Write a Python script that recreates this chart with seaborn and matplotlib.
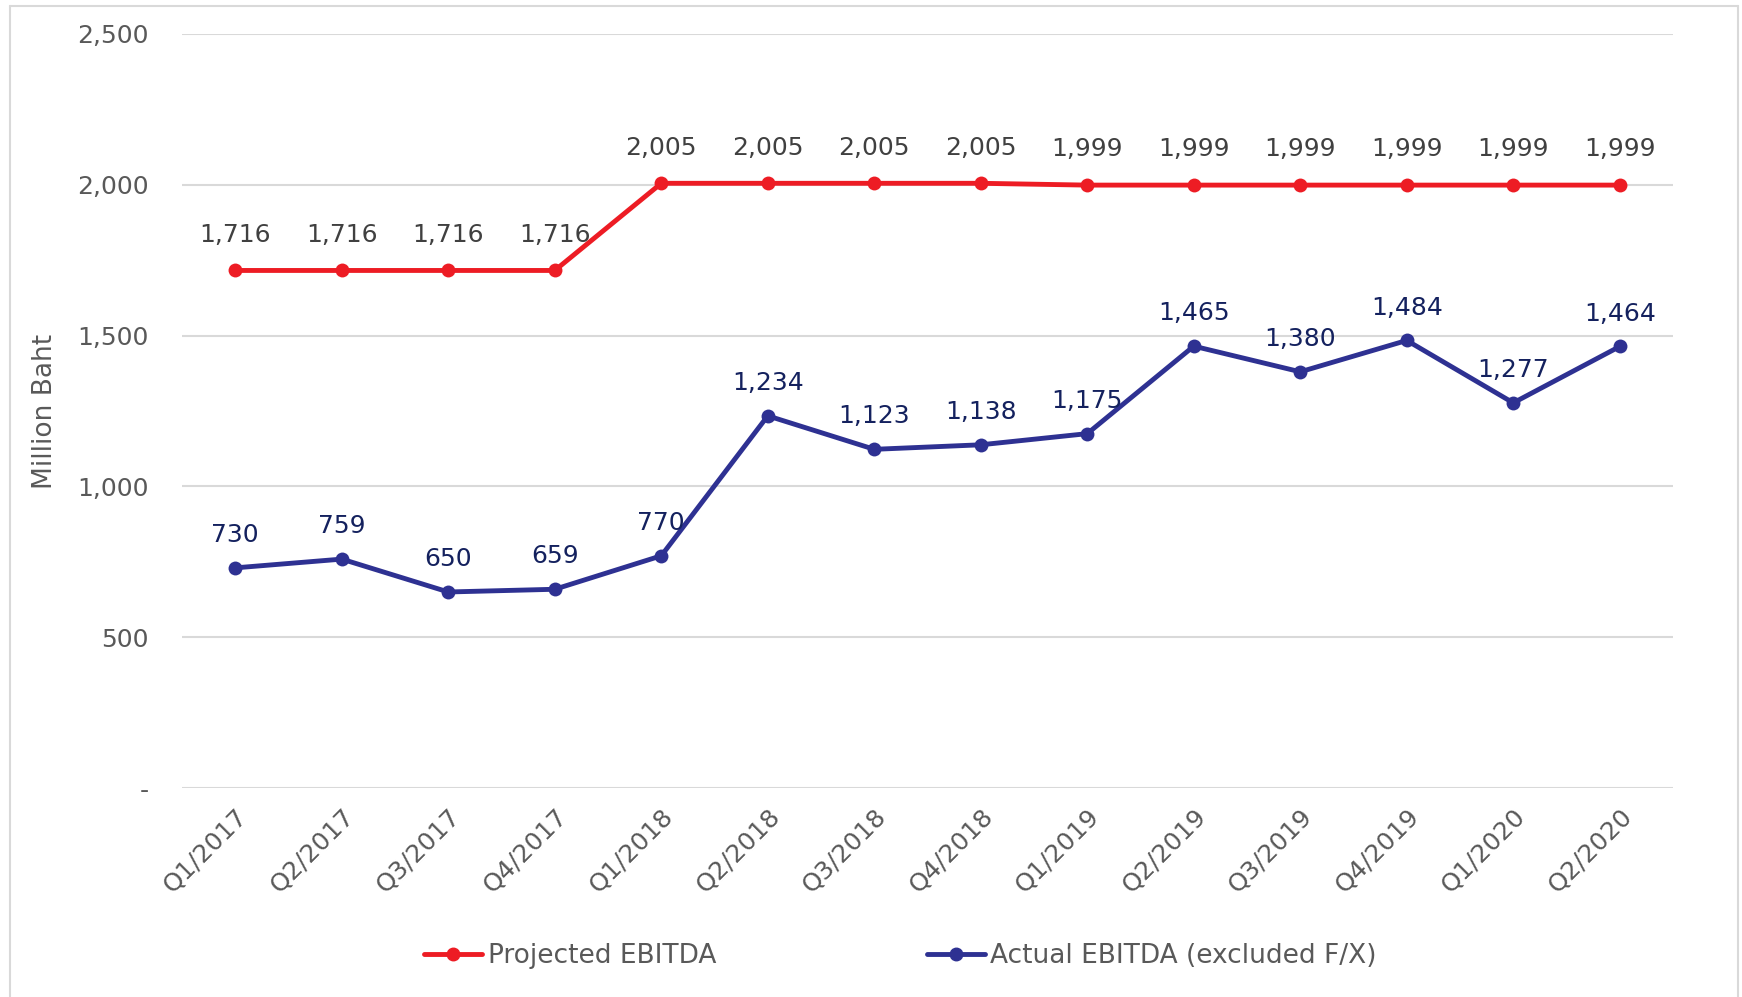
import matplotlib
matplotlib.use("Agg")
import matplotlib.pyplot as plt
import pandas as pd
import seaborn as sns
from matplotlib.lines import Line2D

# ----- data -----
quarters = ["Q1/2017", "Q2/2017", "Q3/2017", "Q4/2017",
            "Q1/2018", "Q2/2018", "Q3/2018", "Q4/2018",
            "Q1/2019", "Q2/2019", "Q3/2019", "Q4/2019",
            "Q1/2020", "Q2/2020"]
projected = [1716, 1716, 1716, 1716, 2005, 2005, 2005, 2005,
             1999, 1999, 1999, 1999, 1999, 1999]
actual = [730, 759, 650, 659, 770, 1234, 1123, 1138,
          1175, 1465, 1380, 1484, 1277, 1464]
y_ticks = [0, 500, 1000, 1500, 2000, 2500]

red = "#ED1C24"
blue = "#2E3192"

sns.set_style("white")
plt.rcParams["font.family"] = ["DejaVu Sans"]

df_proj = pd.DataFrame({"quarter": quarters, "value": projected})
df_act = pd.DataFrame({"quarter": quarters, "value": actual})

fig = plt.figure(figsize=(17.42, 9.97), dpi=100)
ax = fig.add_axes([0.1045, 0.2096, 0.8559, 0.7563])

sns.lineplot(data=df_proj, x="quarter", y="value", sort=False, color=red,
             linewidth=3.5, marker="o", markersize=10, markeredgewidth=0, ax=ax)
sns.lineplot(data=df_act, x="quarter", y="value", sort=False, color=blue,
             linewidth=3.5, marker="o", markersize=10, markeredgewidth=0, ax=ax)

# data labels
for i, v in enumerate(projected):
    ax.annotate(f"{v:,}", (i, v), xytext=(0, 17), textcoords="offset points",
                ha="center", va="bottom", fontsize=18, color="#404040")
for i, v in enumerate(actual):
    ax.annotate(f"{v:,}", (i, v), xytext=(0, 15), textcoords="offset points",
                ha="center", va="bottom", fontsize=18, color="#14215E")

ax.set_xlim(-0.5, len(quarters) - 0.5)
ax.set_ylim(0, 2500)
ax.set_yticks(y_ticks)
ax.set_yticklabels(["-" if t == 0 else f"{t:,}" for t in y_ticks])
ax.yaxis.grid(True, color="#D9D9D9", linewidth=1.5)
ax.set_axisbelow(True)
for s in ax.spines.values():
    s.set_visible(False)
ax.tick_params(axis="y", length=0, pad=24, labelsize=18, labelcolor="#595959")
ax.tick_params(axis="x", length=0, pad=12, labelsize=18, labelcolor="#595959")
plt.setp(ax.get_xticklabels(), rotation=45, ha="right", rotation_mode="anchor")
ax.set_xlabel("")
ax.set_ylabel("Million Baht", fontsize=19, color="#595959", labelpad=14)

handles = [Line2D([], [], color=red, linewidth=3.5, marker="o", markersize=9),
           Line2D([], [], color=blue, linewidth=3.5, marker="o", markersize=9)]
fig.legend(handles, ["Projected EBITDA", "Actual EBITDA (excluded F/X)"],
           loc="center", bbox_to_anchor=(0.517, 0.041), ncol=2, frameon=False,
           fontsize=19, labelcolor="#595959", handlelength=2.2, handletextpad=0.2,
           columnspacing=8.0)

# outer chart border
border = "#D9D9D9"
fig.add_artist(Line2D([0.006, 0.006], [0.0, 0.994], color=border, linewidth=1.5))
fig.add_artist(Line2D([0.006, 0.9977], [0.994, 0.994], color=border, linewidth=1.5))
fig.add_artist(Line2D([0.9977, 0.9977], [0.0, 0.994], color=border, linewidth=1.5))

fig.savefig("out.png", dpi=100)
